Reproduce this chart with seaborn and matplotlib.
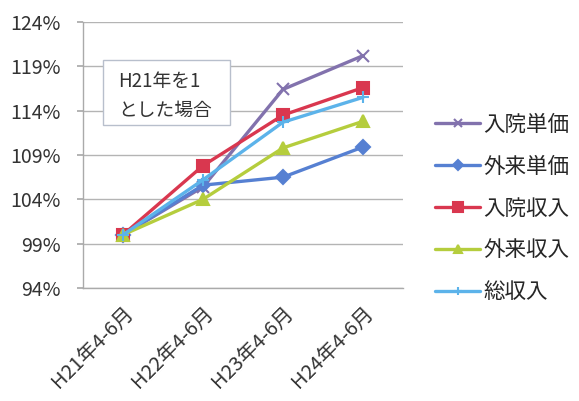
import matplotlib
matplotlib.use("Agg")
import matplotlib.pyplot as plt
import seaborn as sns
import pandas as pd
from matplotlib.patches import Rectangle

categories = ["H21年4-6月", "H22年4-6月", "H23年4-6月", "H24年4-6月"]
series_names = ["入院単価", "外来単価", "入院収入", "外来収入", "総収入"]
nyuin_tanka = [100.0, 105.4, 116.4, 120.2]
gairai_tanka = [100.0, 105.6, 106.5, 109.9]
nyuin_shunyu = [100.0, 107.8, 113.5, 116.6]
gairai_shunyu = [100.0, 104.0, 109.8, 112.8]
so_shunyu = [100.0, 106.2, 112.7, 115.5]
y_ticks = [94, 99, 104, 109, 114, 119, 124]
note_lines = ["H21年を1", "とした場合"]

values = [nyuin_tanka, gairai_tanka, nyuin_shunyu, gairai_shunyu, so_shunyu]
colors = ["#8272ad", "#5680d2", "#d9374f", "#b5cd3d", "#5cb3ea"]
markers = ["x", "D", "s", "^", "+"]
msizes = [8, 7, 9, 8, 8]

sns.set_theme(style="white")
plt.rcParams["font.family"] = ["Noto Sans CJK JP", "DejaVu Sans"]

fig = plt.figure(figsize=(5.79, 4.01), dpi=100)
ax = fig.add_axes([83/579, 1-288/401, (403-83)/579, (288-22)/401])

rows = []
for name, vals in zip(series_names, values):
    for c, v in zip(categories, vals):
        rows.append({"cat": c, "val": v, "series": name})
df = pd.DataFrame(rows)

for i, name in enumerate(series_names):
    sub = df[df["series"] == name]
    sns.lineplot(data=sub, x="cat", y="val", ax=ax, color=colors[i],
                 marker=markers[i], markersize=msizes[i], linewidth=2.4,
                 markeredgecolor=colors[i], markeredgewidth=1.5,
                 label=name, zorder=3+i, sort=False)

ax.set_xlim(-0.5, 3.5)
ax.set_ylim(94, 124)
ax.set_yticks(y_ticks)
ax.set_yticklabels([f"{t}%" for t in y_ticks], fontsize=14, color="#333333")
ax.set_xticks(range(len(categories)))
ax.set_xticklabels(categories, fontsize=14.5, color="#333333", rotation=45,
                   ha="right", rotation_mode="anchor")
ax.tick_params(axis="x", length=0, pad=11)
ax.set_xticks([0.5, 1.5, 2.5, 3.5], minor=True)
ax.tick_params(axis="x", which="minor", length=5, color="#aaaaaa", direction="out")
ax.tick_params(axis="y", length=4, color="#aaaaaa", direction="out", pad=12, left=True)
ax.set_xlabel("")
ax.set_ylabel("")
ax.yaxis.grid(True, color="#b4b4b4", linewidth=1)
ax.set_axisbelow(True)
for s in ["top", "right"]:
    ax.spines[s].set_visible(False)
for s in ["left", "bottom"]:
    ax.spines[s].set_color("#aaaaaa")
    ax.spines[s].set_linewidth(1)

handles, labels = ax.get_legend_handles_labels()
ax.legend(handles, labels, loc="upper left", bbox_to_anchor=(435/579, 1-114/401),
          bbox_transform=fig.transFigure, frameon=False, fontsize=15.5,
          handlelength=2.1, handletextpad=0.15, labelspacing=0.92, borderpad=0,
          borderaxespad=0, markerscale=0.75)

fig.patches.append(Rectangle((103/579, 1-125/401), (230-103)/579, (125-60)/401,
                             transform=fig.transFigure, fill=True, facecolor="white",
                             edgecolor="#b8bfcc", linewidth=1, zorder=10))
fig.text(118/579, 1-82/401, note_lines[0], fontsize=13.5, color="#333333",
         va="center", ha="left", zorder=11)
fig.text(118/579, 1-110/401, note_lines[1], fontsize=13.5, color="#333333",
         va="center", ha="left", zorder=11)

fig.savefig("out.png", dpi=100)
